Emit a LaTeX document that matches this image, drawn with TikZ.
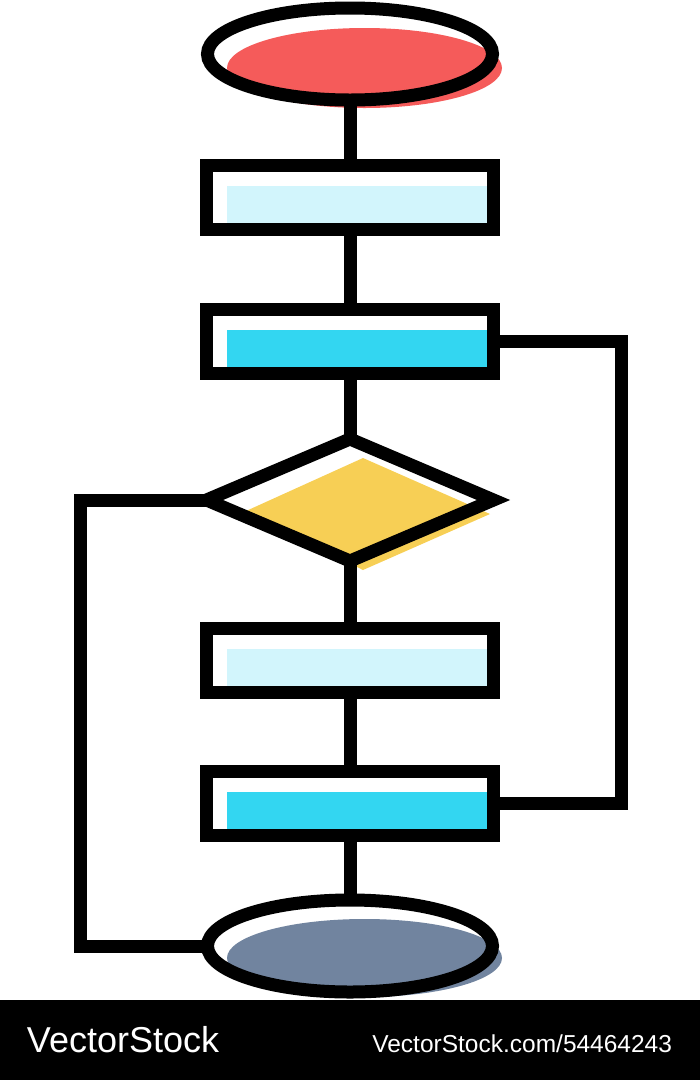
\documentclass[tikz,border=0pt]{standalone}
\usepackage{fontspec}
\setmainfont{Liberation Sans}
\usetikzlibrary{shapes.geometric}
\definecolor{redc}{HTML}{F55B5A}
\definecolor{lblue}{HTML}{D2F5FC}
\definecolor{cyanc}{HTML}{33D6F1}
\definecolor{yellc}{HTML}{F7CF55}
\definecolor{slatec}{HTML}{71849F}
\begin{document}
\begin{tikzpicture}[x=1pt,y=-1pt,
  outl/.style={draw=black, line width=13pt, inner sep=0pt, outer sep=0pt},
  procbox/.style={outl, rectangle, minimum width=287pt, minimum height=64pt},
  termin/.style={outl, ellipse, minimum width=285pt, minimum height=92pt},
  decis/.style={outl, diamond, minimum width=287pt, minimum height=122pt},
  conn/.style={draw=black, line width=13pt, line join=miter},
  wmtext/.style={text=white, inner sep=0pt, outer sep=0pt}
]
\useasboundingbox (0,0) rectangle (700,1080);
% colour fills (offset)
\fill[redc] (364.5,68) ellipse [x radius=137.5, y radius=40];
\fill[lblue] (227,186) rectangle (493.5,229.5);
\fill[cyanc] (227,330) rectangle (493.5,373.5);
\fill[yellc] (363,458) -- (490,514) -- (363,570) -- (246,511) -- cycle;
\fill[lblue] (227,649) rectangle (493.5,692);
\fill[cyanc] (227,792) rectangle (493.5,835.5);
\fill[slatec] (364.5,958) ellipse [x radius=137.5, y radius=39];
% shapes
\node[termin] (start) at (350,54) {};
\node[procbox] (r1) at (350,197.5) {};
\node[procbox] (r2) at (350,341.5) {};
\node[decis] (d) at (350,500) {};
\node[procbox] (r3) at (350,660) {};
\node[procbox] (r4) at (350,803.5) {};
\node[termin] (stop) at (350,946) {};
% connectors
\coordinate (rx) at (621.5,0);
\coordinate (lx) at (80.5,0);
\draw[conn] (start.south) -- (r1.north);
\draw[conn] (r1.south) -- (r2.north);
\draw[conn] (r2.south) -- (d.north);
\draw[conn] (d.south) -- (r3.north);
\draw[conn] (r3.south) -- (r4.north);
\draw[conn] (r4.south) -- (stop.north);
\draw[conn] (r2.east) -- (r2.east -| rx) -- (r4.east -| rx) -- (r4.east);
\draw[conn] (d.west) -- (d.west -| lx) -- (stop.west -| lx) -- (stop.west);
% watermark band
\fill[black] (0,1000) rectangle (700,1080);
\node[wmtext, anchor=base west, font=\fontsize{36pt}{40pt}\selectfont] (wm1) at (27,1052) {VectorStock};
\node[wmtext, anchor=base east, font=\fontsize{24.5pt}{28pt}\selectfont] (wm2) at (672,1052) {VectorStock.com/54464243};
\end{tikzpicture}
\end{document}
